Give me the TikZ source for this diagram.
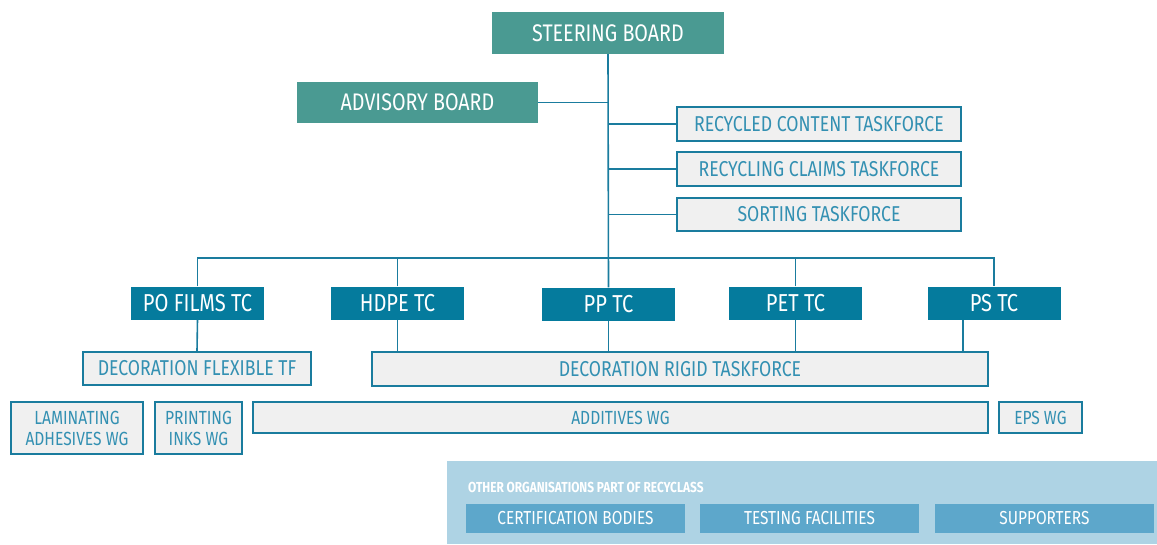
\documentclass[tikz,border=0pt]{standalone}
\usepackage{fontspec}
\setmainfont{Fira Sans}[FakeStretch=0.82]
\usepackage{tikz}
\usetikzlibrary{calc,positioning}

\definecolor{boardteal}{HTML}{4A9A92}
\definecolor{tcblue}{HTML}{057B9D}
\definecolor{linkblue}{HTML}{1A7C9E}
\definecolor{boxgray}{HTML}{F0F0F0}
\definecolor{boxtext}{HTML}{3390B2}
\definecolor{panelblue}{HTML}{AED3E4}
\definecolor{memberblue}{HTML}{5DA7CB}

\tikzset{
  board/.style={fill=boardteal, text=white, inner sep=0pt, font=\fontsize{24}{28}\selectfont},
  tcbox/.style={fill=tcblue, text=white, inner sep=0pt, minimum width=133pt, minimum height=33pt, font=\fontsize{24.5}{28}\selectfont},
  tfbox/.style={draw=linkblue, line width=1.6pt, fill=boxgray, text=boxtext, inner sep=0pt, font=\fontsize{21.5}{25}\selectfont},
  wgbox/.style={tfbox, align=center, font=\fontsize{19}{21}\selectfont},
  member/.style={fill=memberblue, text=white, inner sep=0pt, minimum width=219pt, minimum height=29pt, font=\fontsize{18.8}{22}\selectfont},
  link/.style={draw=linkblue, line width=1.6pt}
}

\begin{document}
\begin{tikzpicture}[x=1pt,y=-1pt]
  \useasboundingbox (0,0) rectangle (1157,544);

  % boards
  \node[board, minimum width=232pt, minimum height=42pt] (steer) at (608,33) {STEERING BOARD};
  \node[board, minimum width=241pt, minimum height=41pt] (adv) at (417.5,102.5) {ADVISORY BOARD};

  % taskforces on the trunk
  \node[tfbox, minimum width=284pt, minimum height=34pt] (content) at (819,124) {RECYCLED CONTENT TASKFORCE};
  \node[tfbox, minimum width=284pt, minimum height=34pt] (claims) at (819,169) {RECYCLING CLAIMS TASKFORCE};
  \node[tfbox, minimum width=284pt, minimum height=33pt] (sorting) at (819,214.5) {SORTING TASKFORCE};

  % technical committees
  \node[tcbox] (pofilms) at (197.5,303) {PO FILMS TC};
  \node[tcbox] (hdpe) at (397.5,303) {HDPE TC};
  \node[tcbox] (pp) at (608.5,304) {PP TC};
  \node[tcbox] (pet) at (795.5,303) {PET TC};
  \node[tcbox] (ps) at (994,303) {PS TC};

  \coordinate (bar) at (608,258);

  % decoration taskforces
  \node[tfbox, minimum width=228pt, minimum height=33pt] (decoflex) at (197,368.5) {DECORATION FLEXIBLE TF};
  \node[tfbox, minimum width=616pt, minimum height=34pt] (decorigid) at (680,369) {DECORATION RIGID TASKFORCE};

  % working groups
  \node[wgbox, minimum width=132pt, minimum height=52pt] (laminating) at (77,428) {LAMINATING\\ADHESIVES WG};
  \node[wgbox, minimum width=87pt, minimum height=52pt] (printing) at (198.5,428) {PRINTING\\INKS WG};
  \node[wgbox, minimum width=735pt, minimum height=31pt] (additives) at (620.5,417.5) {ADDITIVES WG};
  \node[wgbox, minimum width=83pt, minimum height=31pt] (epswg) at (1040.5,417.5) {EPS WG};

  % connectors
  \draw[link] (steer.south) -- (pp.north);
  \draw[link] (adv.east) -- (adv.east -| steer.south);
  \draw[link] (content.west) -- (content.west -| steer.south);
  \draw[link] (claims.west) -- (claims.west -| steer.south);
  \draw[link] (sorting.west) -- (sorting.west -| steer.south);
  \draw[link] (pofilms.north) -- (pofilms.north |- bar) -- (ps.north |- bar) -- (ps.north);
  \draw[link] (hdpe.north) -- (hdpe.north |- bar);
  \draw[link] (pet.north) -- (pet.north |- bar);
  \draw[link] (pofilms.south) -- (decoflex.north);
  \draw[link] (hdpe.south) -- (hdpe.south |- decorigid.north);
  \draw[link] (pp.south) -- (pp.south |- decorigid.north);
  \draw[link] (pet.south) -- (pet.south |- decorigid.north);
  \draw[link] ([xshift=-31pt]ps.south) -- ([xshift=-31pt]ps.south |- decorigid.north);

  % other organisations
  \node[fill=panelblue, inner sep=0pt, minimum width=710pt, minimum height=83pt] (panel) at (802,502.5) {};
  \node[anchor=west, text=white, inner sep=0pt, font=\fontsize{14.5}{17}\selectfont\bfseries] (others) at (468,487) {OTHER ORGANISATIONS PART OF RECYCLASS};
  \node[member] (certification) at (575.5,518.5) {CERTIFICATION BODIES};
  \node[member] (testing) at (809.5,518.5) {TESTING FACILITIES};
  \node[member] (supporters) at (1044.5,518.5) {SUPPORTERS};
\end{tikzpicture}
\end{document}
